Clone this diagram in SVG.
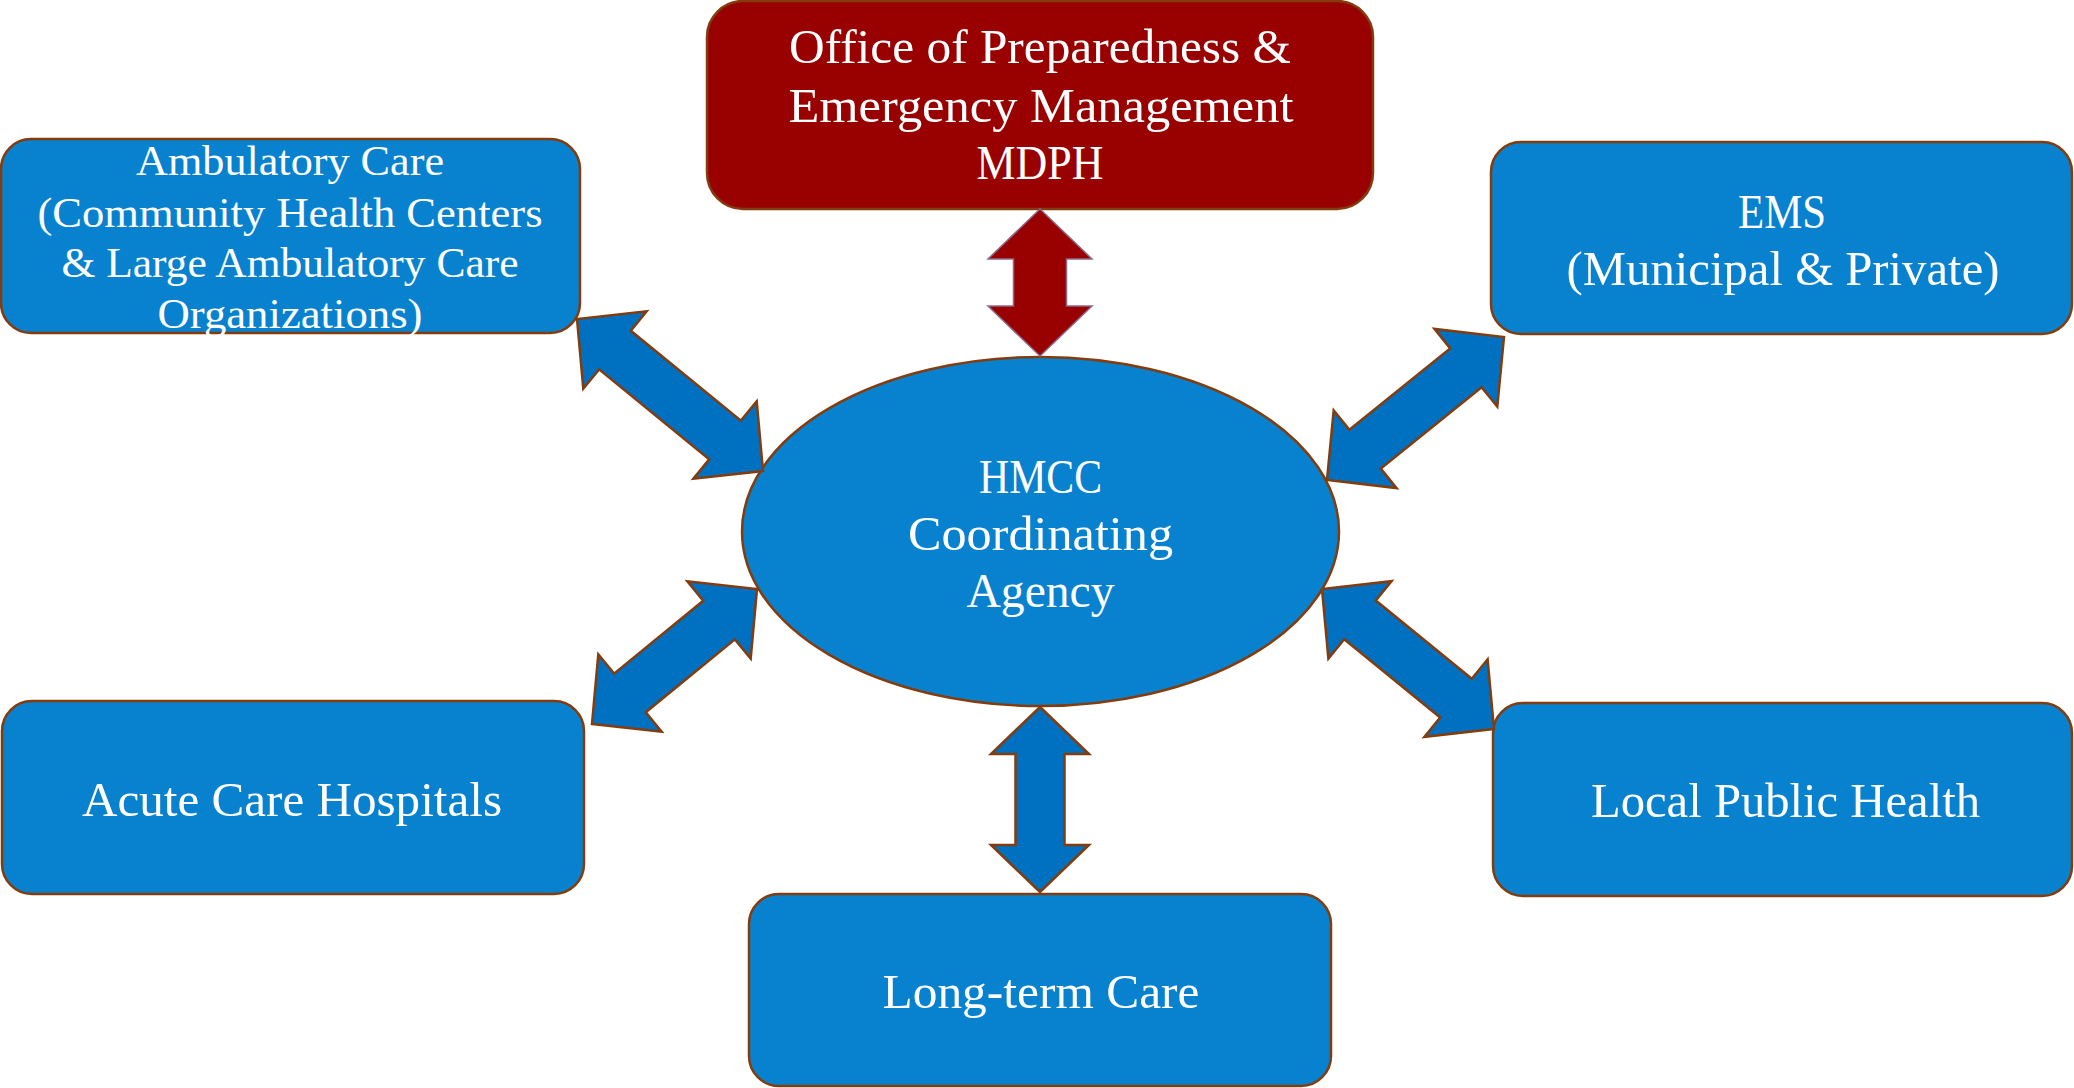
<svg xmlns="http://www.w3.org/2000/svg" width="2074" height="1088" viewBox="0 0 2074 1088">
<style>
.box{fill:#0882CE;stroke:#843C0C;stroke-width:2.5}
.red{fill:#990000;stroke:#843C0C;stroke-width:2.5}
.arr{fill:#0070C0;stroke:#843C0C;stroke-width:2.5;stroke-linejoin:miter}
.arr-red{fill:#990000;stroke:#8A6A8A;stroke-width:1.5}
.t{font-family:"Liberation Serif","Times New Roman",serif;fill:#FFFFFF;text-anchor:middle}
.t48{font-size:48px}
.t42{font-size:42px}
</style>
<rect width="2074" height="1088" fill="#FFFFFF"/>
<g id="node-opem">
<rect class="red" x="707" y="1" width="666" height="208" rx="36" ry="36"/>
<text class="t t48" x="1040" y="63" textLength="502" lengthAdjust="spacingAndGlyphs">Office of Preparedness &amp;</text>
<text class="t t48" x="1041" y="122" textLength="505" lengthAdjust="spacingAndGlyphs">Emergency Management</text>
<text class="t t48" x="1040" y="179" textLength="127" lengthAdjust="spacingAndGlyphs">MDPH</text>
</g>
<g id="node-ambulatory">
<rect class="box" x="1" y="139" width="579" height="194" rx="30" ry="30"/>
<text class="t t42" x="290" y="175" textLength="308" lengthAdjust="spacingAndGlyphs">Ambulatory Care</text>
<text class="t t42" x="290" y="227" textLength="505" lengthAdjust="spacingAndGlyphs">(Community Health Centers</text>
<text class="t t42" x="290" y="277" textLength="457" lengthAdjust="spacingAndGlyphs">&amp; Large Ambulatory Care</text>
<text class="t t42" x="290" y="328" textLength="265" lengthAdjust="spacingAndGlyphs">Organizations)</text>
</g>
<g id="node-ems">
<rect class="box" x="1491" y="142" width="581" height="192" rx="30" ry="30"/>
<text class="t t48" x="1782" y="228" textLength="88" lengthAdjust="spacingAndGlyphs">EMS</text>
<text class="t t48" x="1783" y="285" textLength="433" lengthAdjust="spacingAndGlyphs">(Municipal &amp; Private)</text>
</g>
<g id="node-hmcc">
<ellipse class="box" cx="1040.5" cy="531.5" rx="298.5" ry="174.5"/>
<text class="t t48" x="1040.5" y="493" textLength="123" lengthAdjust="spacingAndGlyphs">HMCC</text>
<text class="t t48" x="1040.5" y="550" textLength="265" lengthAdjust="spacingAndGlyphs">Coordinating</text>
<text class="t t48" x="1040.5" y="607" textLength="148" lengthAdjust="spacingAndGlyphs">Agency</text>
</g>
<g id="node-acute">
<rect class="box" x="2" y="701" width="582" height="193" rx="30" ry="30"/>
<text class="t t48" x="292" y="816" textLength="420" lengthAdjust="spacingAndGlyphs">Acute Care Hospitals</text>
</g>
<g id="node-local">
<rect class="box" x="1493" y="703" width="579" height="193" rx="30" ry="30"/>
<text class="t t48" x="1785.5" y="817" textLength="389" lengthAdjust="spacingAndGlyphs">Local Public Health</text>
</g>
<g id="node-longterm">
<rect class="box" x="749" y="894" width="582" height="192" rx="30" ry="30"/>
<text class="t t48" x="1041" y="1008" textLength="317" lengthAdjust="spacingAndGlyphs">Long-term Care</text>
</g>
<g id="connectors">
<polygon id="c-opem" class="arr-red" points="1040,209 1092,259 1066.5,259 1066.5,306 1092,306 1040,356 988,306 1013.5,306 1013.5,259 988,259"/>
<polygon id="c-longterm" class="arr" points="1040,707 1089,754 1064.5,754 1064.5,845 1089,845 1040,892 991,845 1015.5,845 1015.5,754 991,754"/>
<polygon id="c-ambulatory" class="arr" points="577,319 583.3,388.7 599.1,369.4 709.2,459.4 693.4,478.7 763,471 756.7,401.3 740.9,420.6 630.8,330.7 646.6,311.3"/>
<polygon id="c-ems" class="arr" points="1504,337 1497.3,406.7 1481.6,387.25 1380.8,468.65 1396.55,488.1 1327,480 1333.7,410.3 1349.4,429.75 1450.2,348.35 1434.45,328.9"/>
<polygon id="c-acute" class="arr" points="592,724 661.6,731.7 645.8,712.3 734.9,639.4 750.7,658.7 757,589 687.4,581.3 703.2,600.7 614.1,673.6 598.3,654.3"/>
<polygon id="c-local" class="arr" points="1494,729 1424.4,736.85 1440.2,717.46 1344.2,639.32 1328.4,658.71 1322,589 1391.6,581.15 1375.8,600.54 1471.8,678.68 1487.6,659.29"/>
</g>
</svg>
